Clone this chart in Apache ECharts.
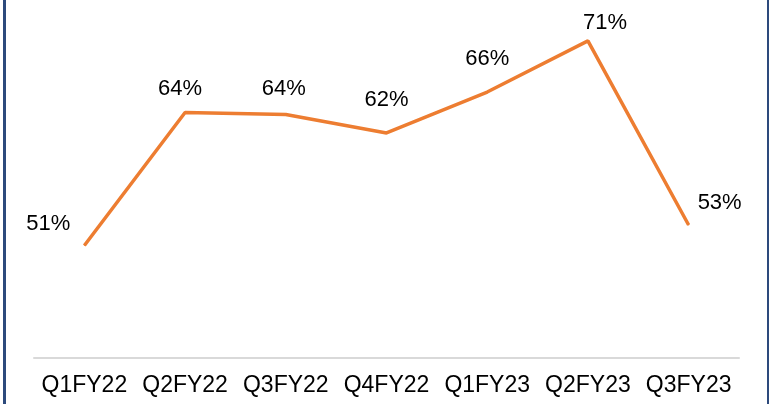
<!DOCTYPE html>
<html>
<head>
<meta charset="utf-8">
<script src="https://cdn.jsdelivr.net/npm/echarts@6/dist/echarts.min.js"></script>
<style>
    html, body { margin: 0; padding: 0; background: #fff; }
    #wrap { position: relative; width: 769px; height: 404px; overflow: hidden; }
    #chart { position: absolute; left: 0; top: 0; width: 769px; height: 404px; }
    .edge { position: absolute; top: 0; width: 3px; height: 404px; background: #2d4a7c; }
</style>
</head>
<body>
<div id="wrap">
    <div id="chart"></div>
    <div class="edge" style="left:3px"></div>
    <div class="edge" style="left:767px"></div>
</div>
<script>
// Chart data
var categories = ['Q1FY22', 'Q2FY22', 'Q3FY22', 'Q4FY22', 'Q1FY23', 'Q2FY23', 'Q3FY23'];
var shareValues = [51, 64, 63.8, 62, 66, 71, 53];

// Label placement relative to each point
var labelOffsets = [[-36, -22], [-5, -24], [-2, -26], [0, -33], [0, -33], [17, -18], [31, -22]];

var chartElement = document.getElementById('chart');
var chart = echarts.init(chartElement);

var fontStack = '"Liberation Sans", Arial, sans-serif';

chart.setOption({
    animation: false,
    textStyle: {
        fontFamily: fontStack
    },
    grid: {
        left: 34,
        right: 30,
        top: -7,
        bottom: 46,
        containLabel: false
    },
    xAxis: {
        type: 'category',
        data: categories,
        boundaryGap: true,
        axisTick: { show: false },
        axisLine: {
            lineStyle: { color: '#d9d9d9', width: 2 }
        },
        axisLabel: {
            color: '#000',
            fontSize: 23,
            fontFamily: fontStack,
            margin: 16,
            interval: 0
        }
    },
    yAxis: {
        type: 'value',
        min: 40,
        max: 75,
        show: false,
        splitLine: { show: false }
    },
    series: [{
        type: 'line',
        data: shareValues.map(function(v, i) {
            return {
                value: v,
                label: { offset: labelOffsets[i] }
            };
        }),
        symbol: 'circle',
        symbolSize: 1,
        itemStyle: { color: '#ed7d31' },
        lineStyle: { color: '#ed7d31', width: 3.5 },
        label: {
            show: true,
            position: 'inside',
            color: '#000',
            fontSize: 22,
            fontFamily: fontStack,
            formatter: function(p) {
                return Math.round(p.value) + '%';
            }
        }
    }]
});
</script>
</body>
</html>
